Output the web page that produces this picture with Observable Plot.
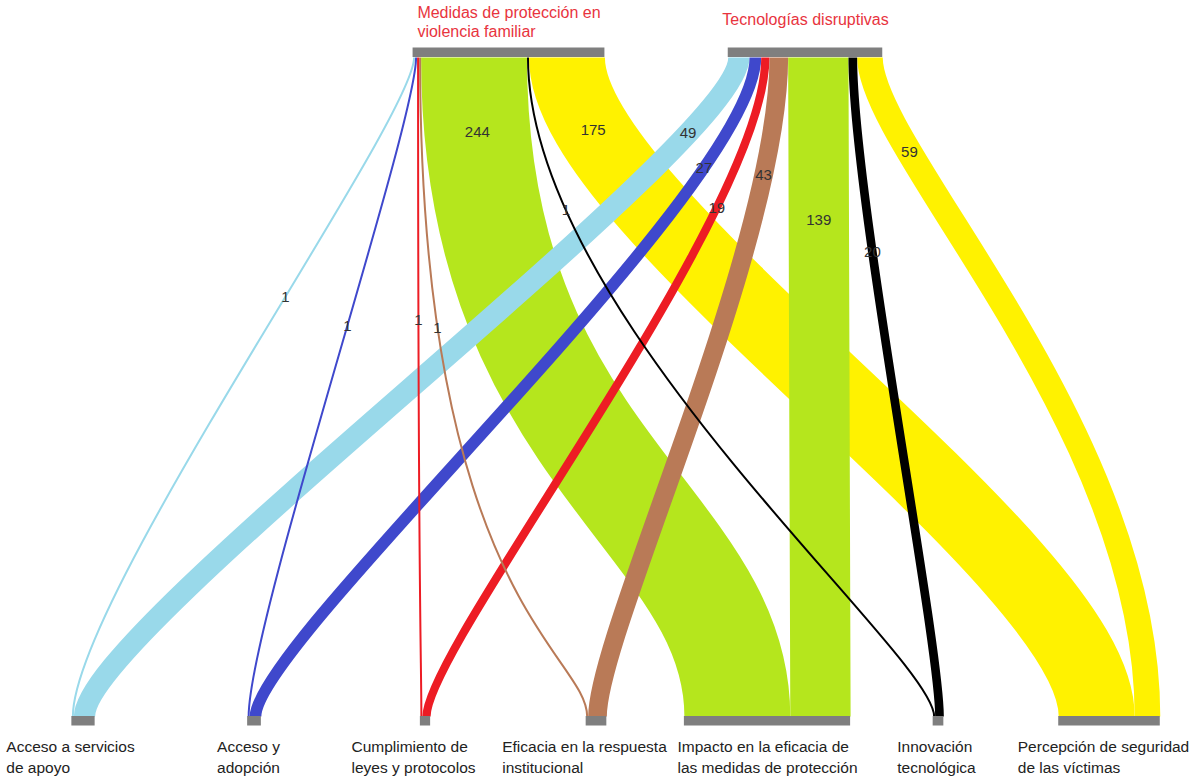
<!DOCTYPE html>
<html><head><meta charset="utf-8">
<script src="https://cdn.jsdelivr.net/npm/d3@7"></script>
<script src="https://cdn.jsdelivr.net/npm/@observablehq/plot@0.6"></script>
<style>body{margin:0;background:#fff} #chart svg{display:block}</style>
</head><body><div id="chart"></div>
<script>
// ---------- data ----------
const sources = ["Medidas de protección en\nviolencia familiar", "Tecnologías disruptivas"];
const targets = [
  "Acceso a servicios\nde apoyo",
  "Acceso y\nadopción",
  "Cumplimiento de\nleyes y protocolos",
  "Eficacia en la respuesta\ninstitucional",
  "Impacto en la eficacia de\nlas medidas de protección",
  "Innovación\ntecnológica",
  "Percepción de seguridad\nde las víctimas"
];
const medidasValues = [1, 1, 1, 1, 244, 1, 175];
const tecnologiasValues = [49, 27, 19, 43, 139, 20, 59];
const targetColors = ["#99D9EA", "#3F48CC", "#ED1C24", "#B97A57", "#B5E61D", "#000000", "#FFF200"];

// ---------- layout (not data) ----------
const W = 1195, H = 778;
const PX = 0.434;        // px per unit of flow
const MINW = 2;          // minimum link thickness
const Y_TOP = 57, Y_BOT = 716, BAR = 9.5;
const H0 = 60, K = 2.6;  // bezier handle = H0 + K * nesting offset (px)
const topCenters = [508.5, 805];
const bottomPos = d3.scalePoint().domain(targets).range([83, 1109]);
const labelShift = [-13, -6, -12, -12, 0, -2, -6];
// label depth along each link (fraction of vertical span)
const labelDepth = [
  [0.363, 0.407, 0.399, 0.410, 0.114, 0.232, 0.111],
  [0.115, 0.168, 0.228, 0.179, 0.247, 0.296, 0.144]
];

const valuesBySource = [medidasValues, tecnologiasValues];
const links = [];
sources.forEach((s, si) => targets.forEach((t, ti) => {
  const v = valuesBySource[si][ti];
  links.push({source: s, target: t, si, ti, value: v, w: Math.max(v * PX, MINW)});
}));

// source stacking
const srcNodes = sources.map((s, si) => {
  const ls = links.filter(l => l.si === si);
  const width = d3.sum(ls, l => l.w);
  const left = topCenters[si] - width / 2;
  let acc = left;
  ls.forEach(l => { l.x1 = acc + l.w / 2; acc += l.w; });
  return {name: s, left, right: left + width, center: topCenters[si], links: ls};
});
// target stacking
const tgtNodes = targets.map((t, ti) => {
  const ls = links.filter(l => l.ti === ti);
  const width = d3.sum(ls, l => l.w);
  const c = bottomPos(t);
  const left = c - width / 2;
  let acc = left;
  ls.forEach(l => { l.x2 = acc + l.w / 2; acc += l.w; });
  return {name: t, ti, left, right: left + width, center: c, links: ls};
});
links.forEach(l => l.dir = l.x2 >= l.x1 ? 1 : -1);

// nested bend handles: inner links bend tighter, outer links wider
srcNodes.forEach(n => [1, -1].forEach(dir => {
  const g = n.links.filter(l => l.dir === dir).sort((a, b) => dir * (b.x1 - a.x1));
  let cum = 0;
  g.forEach(l => { l.h0 = H0 + K * (cum + l.w / 2); cum += l.w; });
}));
tgtNodes.forEach(n => [1, -1].forEach(dir => {
  const g = n.links.filter(l => l.dir === dir).sort((a, b) => dir * (a.x2 - b.x2));
  let cum = 0;
  g.forEach(l => { l.h1 = H0 + K * (cum + l.w / 2); cum += l.w; });
}));

// label positions along each link's bezier
const bez = (a, b, c, d, t) => { const u = 1 - t; return u*u*u*a + 3*u*u*t*b + 3*u*t*t*c + t*t*t*d; };
links.forEach(l => {
  const f = labelDepth[l.si][l.ti];
  const yp = Y_TOP + f * (Y_BOT - Y_TOP);
  let lo = 0, hi = 1;
  for (let k = 0; k < 40; k++) {
    const m = (lo + hi) / 2;
    if (bez(Y_TOP, Y_TOP + l.h0, Y_BOT - l.h1, Y_BOT, m) < yp) lo = m; else hi = m;
  }
  const t = (lo + hi) / 2;
  l.lx = bez(l.x1, l.x1, l.x2, l.x2, t);
  l.ly = f;
});

function bendCurve(h0, h1) {
  return context => ({
    areaStart() {}, areaEnd() {},
    lineStart() { this._i = 0; },
    lineEnd() {},
    point(x, y) {
      if (this._i++ === 0) { context.moveTo(x, y); this._x = x; this._y = y; }
      else {
        context.bezierCurveTo(this._x, this._y + h0, x, y - h1, x, y);
        this._x = x; this._y = y;
      }
    }
  });
}

// text measuring for left-aligned, centered label blocks
const ctx = document.createElement("canvas").getContext("2d");
const FONT = "'Liberation Sans', Arial, sans-serif";
const blockW = (s, size) => { ctx.font = `${size}px ${FONT}`; return d3.max(s.split("\n"), line => ctx.measureText(line).width); };

const drawOrder = links.slice().sort((a, b) => d3.descending(a.w, b.w));

const chart = Plot.plot({
  width: W, height: H,
  margin: 0,
  x: {domain: [0, W], range: [0, W], axis: null},
  y: {domain: [0, 1], range: [Y_TOP, Y_BOT], axis: null},
  color: {domain: targets, range: targetColors},
  style: {fontFamily: FONT, fontSize: "16px", background: "#fff"},
  marks: [
    ...drawOrder.map(l => Plot.link([l], {
      x1: "x1", x2: "x2", y1: () => 0, y2: () => 1,
      stroke: "target", strokeWidth: "w", curve: bendCurve(l.h0, l.h1)
    })),
    Plot.rect(srcNodes, {x1: "left", x2: "right", y1: () => 0, y2: () => 0, insetTop: -BAR, insetBottom: 0, fill: "#7F7F7F"}),
    Plot.rect(tgtNodes, {x1: "left", x2: "right", y1: () => 1, y2: () => 1, insetTop: 0, insetBottom: -BAR, fill: "#7F7F7F"}),
    Plot.text(links, {x: "lx", y: "ly", text: d => String(d.value), fill: "#333", fontSize: 15, textAnchor: "middle"}),
    Plot.text(srcNodes.slice(0, 1), {x: d => d.center - blockW(d.name, 16) / 2, y: () => 0, text: "name", textAnchor: "start", lineAnchor: "middle", lineHeight: 1.2, dy: -36, fontSize: 16, fill: "#E8343E"}),
    Plot.text(srcNodes.slice(1), {x: d => d.center - blockW(d.name, 16) / 2, y: () => 0, text: "name", textAnchor: "start", lineAnchor: "middle", lineHeight: 1.2, dy: -39, fontSize: 16, fill: "#E8343E"}),
    Plot.text(tgtNodes, {x: d => d.center - blockW(d.name, 15.5) / 2 + labelShift[d.ti], y: () => 1, text: "name", textAnchor: "start", lineAnchor: "top", lineHeight: 1.35, dy: 21, fontSize: 15.5, fill: "#222"})
  ]
});
document.getElementById("chart").appendChild(chart);
</script>
</body></html>
